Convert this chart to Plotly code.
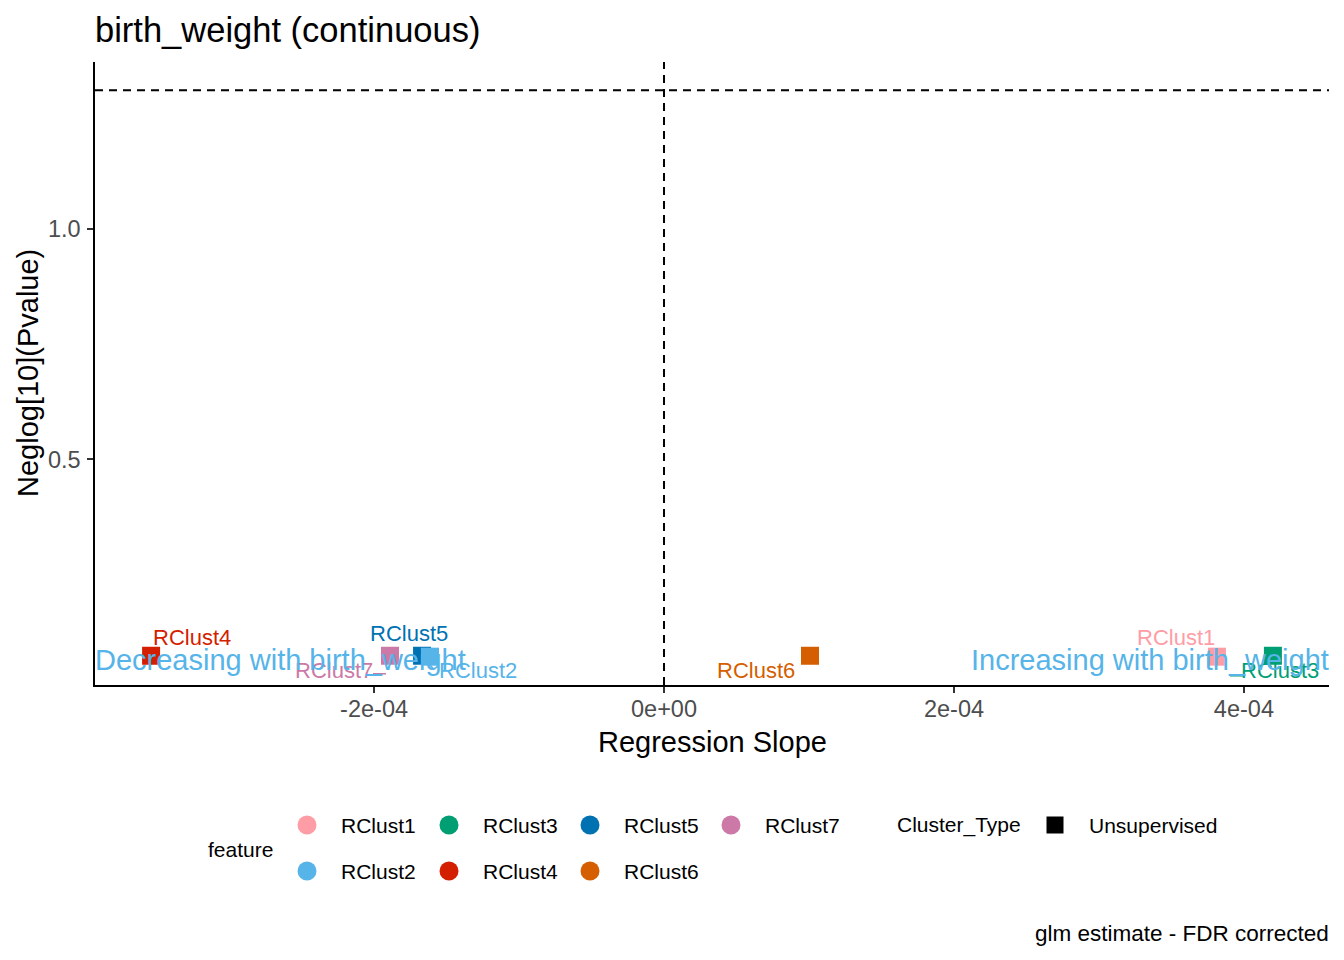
import plotly.graph_objects as go

# glm results, one row per cluster
features = ["RClust1", "RClust2", "RClust3", "RClust4", "RClust5", "RClust6", "RClust7"]
slope = [3.814e-4, -1.614e-4, 4.20e-4, -3.538e-4, -1.669e-4, 1.007e-4, -1.890e-4]
neglog_p = [0.072, 0.072, 0.074, 0.074, 0.074, 0.074, 0.074]
cluster_type = ["Unsupervised"] * 7

colors = {
    "RClust1": "#FF9DA7",
    "RClust2": "#56B4E9",
    "RClust3": "#009E73",
    "RClust4": "#D41E00",
    "RClust5": "#0072B2",
    "RClust6": "#D55E00",
    "RClust7": "#CC79A7",
}

# ggrepel-like label offsets (pixels, from the point)
label_shift = {
    "RClust1": (-41, 19),
    "RClust2": (48, -14),
    "RClust3": (7, -15),
    "RClust4": (41, 18),
    "RClust5": (-13, 22),
    "RClust6": (-54, -15),
    "RClust7": (-56, -15),
}
# short repel segments (pixel offsets x0, y0, x1, y1)
segments = {
    "RClust7": (-17, -18, -4, -18),
    "RClust3": (-43, -20, -29, -20),
    "RClust2": (0, -8, 4, -13),
}

p_cut = 1.30103  # -log10(0.05)
FONT = "Liberation Sans, Arial, sans-serif"

# page body has an 8px margin, so the figure is 8px smaller and everything
# below is given in page pixels
OFF = 8
W, H = 1344 - OFF, 960 - OFF
L, T = 95 - OFF, 62 - OFF
R = W - (1329 - OFF)
PW, PH = W - L - R, H - T


def px(xp):
    return (xp - OFF - L) / PW


def py(yp):
    return (H - (yp - OFF)) / PH


fig = go.Figure()

# draw order: RClust2 ends up above RClust5
order = ["RClust1", "RClust3", "RClust4", "RClust5", "RClust2", "RClust6", "RClust7"]
for f in order:
    i = features.index(f)
    fig.add_trace(go.Scatter(
        x=[slope[i]], y=[neglog_p[i]], mode="markers",
        marker=dict(symbol="square", size=18, color=colors[f], line=dict(width=0)),
        showlegend=False, hoverinfo="skip",
    ))

for i, f in enumerate(features):
    dx, dy = label_shift[f]
    fig.add_annotation(
        x=slope[i], y=neglog_p[i], text=f, showarrow=False,
        xshift=dx, yshift=dy, font=dict(family=FONT, size=22, color=colors[f]),
    )
    if f in segments:
        x0, y0, x1, y1 = segments[f]
        fig.add_shape(
            type="line", xref="x", yref="y",
            xsizemode="pixel", ysizemode="pixel",
            xanchor=slope[i], yanchor=neglog_p[i],
            x0=x0, y0=y0, x1=x1, y1=y1,
            line=dict(color=colors[f], width=1.5),
        )

# direction labels
fig.add_annotation(x=0, xref="paper", xanchor="left", xshift=-2, y=0.064, yref="y", yanchor="middle",
                   text="Decreasing with birth_weight", showarrow=False,
                   font=dict(family=FONT, size=29, color="#56B4E9"))
fig.add_annotation(x=1, xref="paper", xanchor="right", xshift=2, y=0.064, yref="y", yanchor="middle",
                   text="Increasing with birth_weight", showarrow=False,
                   font=dict(family=FONT, size=29, color="#56B4E9"))

# reference lines
fig.add_hline(y=p_cut, line=dict(color="black", width=2, dash="8px,6px"))
fig.add_vline(x=0, line=dict(color="black", width=2, dash="8px,6px"))

# axis titles
fig.add_annotation(x=0.5, xref="paper", xanchor="center", y=py(742), yref="paper", yanchor="middle",
                   text="Regression Slope", showarrow=False,
                   font=dict(family=FONT, size=29, color="black"))
fig.add_annotation(x=px(28), xref="paper", xanchor="center", y=py(373), yref="paper", yanchor="middle",
                   text="Neglog[10](Pvalue)", textangle=-90, showarrow=False,
                   font=dict(family=FONT, size=29, color="black"))

# legend, drawn on a helper axis in page pixel units
cols = [["RClust1", "RClust2"], ["RClust3", "RClust4"], ["RClust5", "RClust6"], ["RClust7"]]
key_x = [307, 449, 590, 731]
row_y = [825, 871]
for c, col in enumerate(cols):
    for r, f in enumerate(col):
        fig.add_trace(go.Scatter(
            x=[key_x[c]], y=[row_y[r]], xaxis="x2", yaxis="y2", mode="markers",
            marker=dict(symbol="circle", size=19, color=colors[f]),
            showlegend=False, hoverinfo="skip",
        ))
        fig.add_annotation(x=key_x[c] + 32, y=row_y[r], xref="x2", yref="y2",
                           xanchor="left", yanchor="middle", text=f, showarrow=False,
                           font=dict(family=FONT, size=21, color="black"))
fig.add_annotation(x=206, y=849, xref="x2", yref="y2", xanchor="left", yanchor="middle",
                   text="feature", showarrow=False, font=dict(family=FONT, size=21, color="black"))
fig.add_annotation(x=895, y=825, xref="x2", yref="y2", xanchor="left", yanchor="middle",
                   text="Cluster_Type", showarrow=False, font=dict(family=FONT, size=21, color="black"))
fig.add_trace(go.Scatter(
    x=[1055], y=[825], xaxis="x2", yaxis="y2", mode="markers",
    marker=dict(symbol="square", size=17, color="black"), showlegend=False, hoverinfo="skip",
))
fig.add_annotation(x=1087, y=825, xref="x2", yref="y2", xanchor="left", yanchor="middle",
                   text=cluster_type[0], showarrow=False,
                   font=dict(family=FONT, size=21, color="black"))

# caption
fig.add_annotation(x=1, xref="paper", xanchor="right", xshift=2, y=py(933), yref="paper",
                   yanchor="middle", text="glm estimate - FDR corrected", showarrow=False,
                   font=dict(family=FONT, size=22.5, color="black"))

span = max(slope) - min(slope)
xr = [min(slope) - 0.05 * span, max(slope) + 0.05 * span]
yspan = p_cut - min(neglog_p)
yr = [min(neglog_p) - 0.05 * yspan, p_cut + 0.05 * yspan]

fig.update_layout(
    width=W, height=H,
    margin=dict(l=L, r=R, t=T, b=0),
    paper_bgcolor="white", plot_bgcolor="white",
    font=dict(family=FONT),
    title=dict(text="birth_weight (continuous)", x=0, xref="paper", xanchor="left",
               y=1 - (30 - OFF) / H, yref="container", yanchor="middle",
               font=dict(family=FONT, size=34.5, color="black")),
    xaxis=dict(
        range=xr, domain=[0, 1], anchor="y",
        tickvals=[-2e-4, 0, 2e-4, 4e-4], ticktext=["-2e-04", "0e+00", "2e-04", "4e-04"],
        showgrid=False, zeroline=False, showline=True, linecolor="black", linewidth=1.5,
        ticks="outside", ticklen=6, tickwidth=1.5, tickcolor="#333333",
        ticklabelstandoff=-4,
        tickfont=dict(family=FONT, size=23.5, color="#4D4D4D"),
    ),
    yaxis=dict(
        range=yr, domain=[py(685), 1], anchor="x",
        tickvals=[0.5, 1.0], ticktext=["0.5", "1.0"],
        showgrid=False, zeroline=False, showline=True, linecolor="black", linewidth=1.5,
        ticks="outside", ticklen=6, tickwidth=1.5, tickcolor="#333333",
        ticklabelstandoff=2,
        tickfont=dict(family=FONT, size=23.5, color="#4D4D4D"),
    ),
    xaxis2=dict(domain=[0, 1], range=[L + OFF, W - R + OFF], anchor="y2",
                visible=False, fixedrange=True),
    yaxis2=dict(domain=[0, py(780)], range=[960, 780], anchor="x2",
                visible=False, fixedrange=True),
)

fig.write_html("out.html")
